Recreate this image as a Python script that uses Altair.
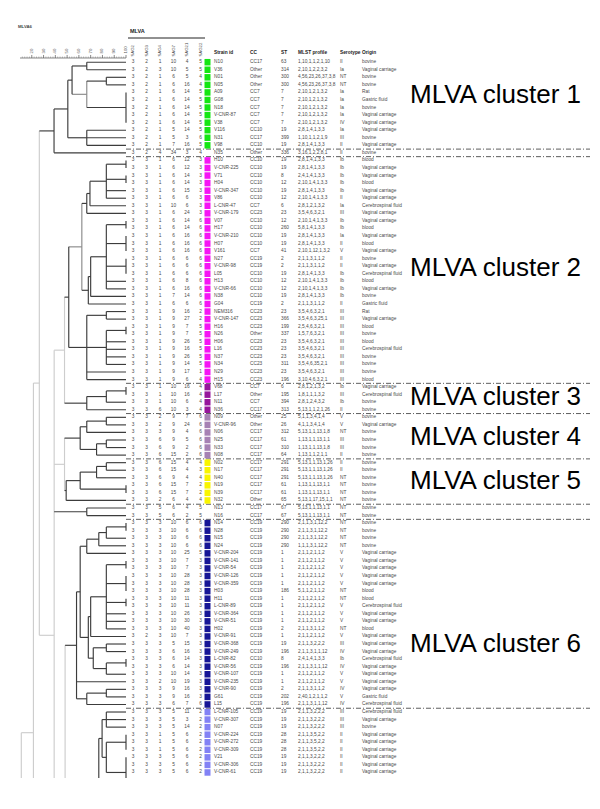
import altair as alt
import pandas as pd

# ---------------- table values (one entry per row, top to bottom) ----------------
strain = ["N10","V36","N01","N05","A09","G08","N18","V-CNR-87","V38","V116",
          "N31","V98","N35","H10","V-CNR-225","V71","H04","V-CNR-347","V86","L-CNR-47",
          "V-CNR-179","V07","H17","V-CNR-210","H07","V161","N27","V-CNR-98","L05","H13",
          "V-CNR-66","N38","G04","NEM316","V-CNR-147","H16","N26","H06","L16","N37",
          "N34","N29","H15","V68","L17","N11","N36","N09","V-CNR-96","N06",
          "N25","N33","N08","N02","N17","N40","N19","N39","N32","N13",
          "N16","N14","N28","N15","N24","V-CNR-204","V-CNR-141","V-CNR-54","V-CNR-126","V-CNR-359",
          "H03","H11","L-CNR-89","V-CNR-364","V-CNR-51","H02","V-CNR-91","V-CNR-368","V-CNR-249","L-CNR-82",
          "V-CNR-56","V-CNR-107","V-CNR-235","V-CNR-90","G61","L15","L-CNR-105","V-CNR-307","N07","V-CNR-224",
          "V-CNR-272","V-CNR-309","V21","V-CNR-306","V-CNR-61"]

sag2 = [3,3,3,3,3,3,3,3,3,3, 3,3,3,3,3,3,3,3,3,3, 3,3,3,3,3,3,3,3,3,3, 3,3,3,3,3,3,3,3,3,3,
        3,3,3,3,3,3,3,3,3,3, 3,3,3,3,3,3,3,3,3,3, 3,3,3,3,3,3,3,3,3,3, 3,3,3,3,3,3,3,3,3,3,
        3,3,3,3,3,3,3,3,3,3, 3,3,3,3,3]
sag3 = [2,2,2,2,2,2,2,2,2,2, 2,2,2,3,3,3,3,3,3,3, 3,3,3,3,3,3,3,3,3,3, 3,3,3,3,3,3,3,3,3,3,
        3,3,3,3,3,3,3,3,3,3, 3,3,3,3,3,3,3,3,3,3, 3,3,3,3,3,3,3,3,3,3, 3,3,3,3,3,3,2,3,3,3,
        3,3,3,3,3,3,3,3,3,3, 3,3,3,3,3]
sag4 = [1,3,1,1,1,1,1,1,1,1, 1,1,4,1,1,1,1,1,1,1, 1,1,1,1,1,1,1,1,1,1, 1,1,1,1,1,1,1,1,1,1,
        1,1,1,1,1,1,6,2,2,3, 6,6,6,6,6,6,6,6,2,5, 5,3,3,3,3,3,3,3,3,3, 3,3,3,3,3,3,3,3,3,3,
        3,3,2,3,3,3,3,3,3,1, 1,1,3,3,3]
sag7 = [10,10,6,6,6,6,6,6,6,5, 5,7,34,6,6,6,6,6,6,10, 6,6,6,6,6,6,6,6,6,6, 6,7,6,9,9,9,9,9,9,9,
        9,9,9,10,10,10,10,9,9,9, 9,9,15,15,15,9,15,15,6,6, 6,10,10,10,10,10,10,10,10,10,
        10,10,10,10,10,10,10,5,6,6, 6,10,10,9,9,6,5,5,5,5, 5,5,5,5,5]
sag21 = [4,5,5,16,14,14,14,14,14,14, 3,16,3,12,12,14,14,15,6,6, 24,14,14,16,16,16,6,6,6,8,
         16,14,6,16,27,7,7,26,16,26, 14,17,6,16,16,6,3,7,24,4, 5,2,2,4,4,4,7,7,4,4,
         2,6,6,6,6,25,7,7,28,28, 28,11,11,26,30,40,7,15,16,14, 14,14,19,16,16,7,11,3,14,6,
         6,6,6,6,6]
sag22 = [5,5,4,4,5,5,5,5,5,5, 6,5,4,3,3,3,3,3,3,3, 3,6,6,6,6,6,6,6,6,6, 6,6,6,2,2,5,5,5,5,5,
         5,1,4,4,4,4,4,6,6,6, 6,6,6,4,3,4,2,2,4,5, 5,6,6,6,6,5,3,3,3,3, 3,3,3,3,3,3,3,3,3,3,
         3,3,3,3,3,6,2,2,2,2, 2,2,2,2,2]

cc = ["CC17","Other","Other","Other","CC7","CC7","CC7","CC7","CC7","CC10",
      "CC17","CC10","Other","CC10","CC10","CC10","CC10","CC10","CC10","CC7",
      "CC23","CC10","CC10","CC10","CC10","CC7","CC19","CC19","CC10","CC10",
      "CC10","CC10","CC19","CC23","CC23","CC23","Other","CC23","CC23","CC23",
      "CC23","CC23","CC23","CC7","Other","CC7","CC17","Other","Other","CC17",
      "CC17","CC17","CC17","CC17","CC17","CC17","CC17","CC17","Other","CC17",
      "CC17","CC19","CC19","CC19","CC19","CC19","CC19","CC19","CC19","CC19",
      "CC19","CC19","CC19","CC19","CC19","CC19","CC19","CC19","CC19","CC10",
      "CC19","CC19","CC19","CC19","CC19","CC19","CC19","CC19","CC19","CC19",
      "CC19","CC19","CC19","CC19","CC19"]
st = ["63","314","300","300","7","7","7","7","7","19",
      "399","19","336","19","19","8","12","19","12","6",
      "23","12","260","19","19","41","2","2","19","12",
      "12","19","2","23","366","199","337","23","23","23",
      "311","23","196","6","195","394","313","25","26","312",
      "61","310","64","291","291","291","61","61","65","67",
      "67","290","290","290","290","1","1","1","1","1",
      "186","1","1","1","1","2","1","19","196","8",
      "196","1","1","2","202","196","19","19","19","28",
      "28","28","19","19","19"]
mlst = ["1,10,1,1,2,1,10","2,10,1,2,2,3,2","4,56,23,26,37,3,8","4,56,23,26,37,3,8","2,10,1,2,1,3,2",
        "2,10,1,2,1,3,2","2,10,1,2,1,3,2","2,10,1,2,1,3,2","2,10,1,2,1,3,2","2,8,1,4,1,3,3",
        "1,10,1,1,2,1,9","2,8,1,4,1,3,3","3,16,1,2,2,8,1","2,8,1,4,1,3,3","2,8,1,4,1,3,3",
        "2,4,1,4,1,3,3","2,10,1,4,1,3,3","2,8,1,4,1,3,3","2,10,1,4,1,3,3","2,8,1,2,1,3,2",
        "3,5,4,6,3,2,1","2,10,1,4,1,3,3","5,8,1,4,1,3,3","2,8,1,4,1,3,3","2,8,1,4,1,3,3",
        "2,10,1,12,1,3,2","2,1,1,3,1,1,2","2,1,1,3,1,1,2","2,8,1,4,1,3,3","2,10,1,4,1,3,3",
        "2,10,1,4,1,3,3","2,8,1,4,1,3,3","2,1,1,3,1,1,2","3,5,4,6,3,2,1","3,5,4,6,3,25,1",
        "2,5,4,6,3,2,1","1,5,7,6,3,2,1","3,5,4,6,3,2,1","3,5,4,6,3,2,1","3,5,4,6,3,2,1",
        "3,5,4,6,35,2,1","3,5,4,6,3,2,1","3,10,4,6,3,2,1","2,8,1,2,1,3,2","1,8,1,1,1,3,2",
        "2,8,1,2,4,3,2","5,13,1,1,2,1,26","5,1,1,3,4,1,4","4,1,1,3,4,1,4","5,13,1,1,13,1,8",
        "1,13,1,1,13,1,1","1,13,1,1,13,1,8","1,13,1,1,2,1,1","5,13,1,1,13,1,26","5,13,1,1,13,1,26",
        "5,13,1,1,13,1,26","1,13,1,1,13,1,1","1,13,1,1,13,1,1","5,13,1,17,15,1,1","5,13,1,1,13,1,1",
        "5,13,1,1,13,1,1","2,1,1,3,1,12,2","2,1,1,3,1,12,2","2,1,1,3,1,12,2","1,1,1,3,1,12,2",
        "2,1,1,2,1,1,2","2,1,1,2,1,1,2","2,1,1,2,1,1,2","2,1,1,2,1,1,2","2,1,1,2,1,1,2",
        "5,1,1,2,1,1,2","2,1,1,2,1,1,2","2,1,1,2,1,1,2","2,1,1,2,1,1,2","2,1,1,2,1,1,2",
        "2,1,1,3,1,1,2","2,1,1,2,1,1,2","2,1,1,3,2,2,2","2,1,1,3,1,1,12","2,4,1,4,1,3,3",
        "2,1,1,3,1,1,12","2,1,1,2,1,1,2","2,1,1,2,1,1,2","2,1,1,3,1,1,2","2,40,1,2,1,1,2",
        "2,1,1,3,1,1,12","2,1,1,3,2,2,2","2,1,1,3,2,2,2","2,1,1,3,2,2,2","2,1,1,3,5,2,2",
        "2,1,1,3,5,2,2","2,1,1,3,5,2,2","2,1,1,3,2,2,2","2,1,1,3,2,2,2","2,1,1,3,2,2,2"]
serotype = ["II","Ia","NT","NT","Ia","Ia","Ia","Ia","IV","Ia",
            "III","II","II","Ib","Ib","Ib","Ib","Ib","II","Ia",
            "III","Ib","Ib","Ia","II","V","II","II","Ib","Ib",
            "Ib","Ib","II","III","III","III","III","III","III","III",
            "III","III","III","Ib","III","Ib","II","V","V","NT",
            "III","III","II","II","II","NT","NT","NT","NT","NT",
            "NT","NT","NT","NT","NT","V","V","V","V","V",
            "NT","NT","V","V","V","NT","V","III","IV","Ib",
            "IV","V","V","IV","V","IV","III","III","III","II",
            "II","II","II","II","II"]
VC, CSF, GF = "Vaginal carriage", "Cerebrospinal fluid", "Gastric fluid"
origin = ["bovine",VC,"bovine","bovine","Rat",GF,"bovine",VC,VC,VC,
          "bovine",VC,"bovine","blood",VC,VC,"blood",VC,VC,CSF,
          VC,VC,"blood",VC,"blood",VC,"bovine",VC,CSF,"blood",
          VC,"bovine",GF,"Rat",VC,"blood","bovine","blood",CSF,"bovine",
          "bovine","bovine","blood",VC,CSF,"bovine","bovine","bovine",VC,"bovine",
          "bovine","bovine","bovine","bovine","bovine","bovine","bovine","bovine","bovine","bovine",
          "bovine","bovine","bovine","bovine","bovine",VC,VC,VC,VC,VC,
          "blood","blood",CSF,VC,VC,"blood",VC,VC,VC,CSF,
          VC,VC,VC,VC,GF,CSF,CSF,VC,"bovine",VC,
          VC,VC,VC,VC,VC]
# MLVA cluster membership (0 = unclustered)
cluster = [1,1,1,1,1,1,1,1,1,1, 1,1,0,2,2,2,2,2,2,2, 2,2,2,2,2,2,2,2,2,2, 2,2,2,2,2,2,2,2,2,2,
           2,2,2,3,3,3,3,4,4,4, 4,4,4,5,5,5,5,5,5,0, 0,6,6,6,6,6,6,6,6,6, 6,6,6,6,6,6,6,6,6,6,
           6,6,6,6,6,6,7,7,7,7, 7,7,7,7,7]

separators_after = [11, 12, 42, 46, 52, 58, 60, 85]
cluster_labels = ["MLVA cluster 1","MLVA cluster 2","MLVA cluster 3","MLVA cluster 4","MLVA cluster 5","MLVA cluster 6"]
cluster_label_rows = [4.3, 27.2, 44.3, 49.6, 55.4, 77.0]
scale_major = [20, 30, 40, 50, 60, 70, 80, 90, 100]
scale_minor = [12,14,16,18,22,24,26,28,32,34,36,38,42,44,46,48,52,54,56,58,62,64,66,68,72,74,76,78,82,84,86,88,92,94,96,98]

# ---------------- dendrogram (similarity %, line shade, children) ----------------
def N(sim, shade, *kids):
    return {"s": sim, "c": shade, "k": list(kids)}

# cluster 1
A = N(66.7, "k", 0, 1)
B = N(83.3, "k", 2, 3)
I48 = N(100, "k", 4, 5, 6, 7, 8)
C = N(66.7, "m", B, I48)
D = N(54.2, "k", A, C)
T = N(66.7, "k", 9, 10, 11)
E = N(50.6, "k", D, T)
F = N(38.9, "k", E, 12)
# cluster 2
g13 = N(83.3, "k", N(100, "k", 13, 14), N(100, "k", 15, 16), 17, 18)
h20 = N(66.7, "k", N(69.4, "k", g13, 19), 20)
g21 = N(83.3, "k", N(100, "k", 21, 22), N(100, "k", 23, 24, 25), N(100, "k", 26, 27, 28), 29, 30)
h32 = N(68.0, "k", N(70.0, "k", g21, 31), 32)
u2 = N(62.5, "m", h20, h32)
l2 = N(66.7, "k", N(83.3, "k", 33, 34), N(83.3, "k", N(100, "k", 35, 36), 37, 38, 39, 40), 41, 42)
c2 = N(51.4, "k", u2, l2)
# cluster 3
c3 = N(66.7, "k", N(83.3, "k", N(100, "k", 43, 44), 45), 46)
c23 = N(47.8, "l", c2, c3)
# clusters 4 and 5
c4 = N(61.1, "k", N(66.7, "k", N(83.3, "k", 47, 48), 49), N(75.0, "k", N(83.3, "k", 50, 51), 52))
c5 = N(49.2, "k", N(61.1, "k", N(75.0, "k", N(83.3, "k", 53, 54), 55), N(100, "k", 56, 57)), 58)
c45 = N(47.8, "l", c4, c5)
p59 = N(66.7, "k", 59, 60)
# cluster 6
g65 = N(66.7, "k", N(76.9, "k", N(83.3, "k", N(100, "k", 61, 62), 63), 64), 65)
gb = N(83.3, "k", N(100, "k", 66, 67), N(100, "k", 68, 69, 70), N(100, "k", 71, 72), 73, 74, 75)
hb = N(70.0, "k", gb, 76)
gc = N(72.2, "k", N(83.3, "k", 77, 78), N(83.3, "k", N(100, "k", 79, 80), 81))
n243 = N(61.1, "k", g65, N(68.0, "k", hb, gc))
c6 = N(58.0, "k", n243, 82, N(66.7, "k", N(83.3, "k", 83, 84), 85))
# light-blue group (continues below the visible part: rows >= 95)
g89 = N(83.3, "k", N(100, "k", 89, 90, 91), N(100, "k", 92, 93, 94, 95, 96))
n310 = N(79.7, "k", N(83.3, "k", 86, 87, 88), g89)
n300 = N(76.9, "k", n310, 104)
n197 = N(48.3, "l", c6, n300, 150)
P = N(39.0, "l", c23, c45, p59, n197)
G = N(26.4, "l", F, P)
Q = N(21.4, "l", G, 135)
R = N(11.1, "l", Q, 160)

segs = []
def walk(node):
    if isinstance(node, int):
        return node, 100.0, None
    pos = [walk(k) for k in node["k"]]
    ys = [p[0] for p in pos]
    segs.append(dict(xa=node["s"], xb=node["s"], ya=min(ys), yb=max(ys), shade=node["c"]))
    for (y, xs, sh) in pos:
        segs.append(dict(xa=node["s"], xb=xs, ya=y, yb=y, shade=sh if sh else node["c"]))
    return (min(ys) + max(ys)) / 2.0, node["s"], node["c"]

walk(R)
shade_color = {"k": "#3c3c3c", "m": "#8a8a8a", "l": "#cdcdcd"}
order = {"l": 0, "m": 1, "k": 2}
seg_df = pd.DataFrame(segs)
seg_df["col"] = seg_df["shade"].map(shade_color)
seg_df["o"] = seg_df["shade"].map(order)
seg_df = seg_df.sort_values("o", kind="stable").reset_index(drop=True)

# ---------------- layout (reference pixel columns) ----------------
W, H = 584, 770
ROW0, ROWH = 62.2, 7.556
y_lo = (8 - ROW0) / ROWH
y_hi = (8 + H - ROW0) / ROWH
YS = alt.Scale(domain=[y_lo, y_hi], reverse=True, nice=False, zero=False)
XS = alt.Scale(domain=[8, 8 + W], nice=False, zero=False)
SIM_X0, SIM_X1 = 20, 126   # pixel of 10 % and 100 %
SS = alt.Scale(domain=[10, 100], range=[SIM_X0 - 8, SIM_X1 - 8], nice=False, zero=False)

FONT = "Liberation Sans"
TS = 4.8
TC = "#4a4a4a"
locus_names = ["SAG2", "SAG3", "SAG4", "SAG7", "SAG21", "SAG22"]
locus_x = [133, 146.5, 160, 173.5, 187, 200.5]
sq_x0, sq_x1 = 204.5, 210.5
col_x = {"strain": 214, "cc": 250, "st": 281, "mlst": 298, "sero": 340, "origin": 362}
headers = ["Strain id", "CC", "ST", "MLST profile", "Serotype", "Origin"]
header_x = [214, 250, 281, 298, 340, 362]
palette = {1: "#14e614", 2: "#f514f5", 3: "#96179c", 4: "#a682b4", 5: "#f8f500",
           6: "#161696", 7: "#8282f5"}

n = len(strain)
rows = list(range(n))
loci = [sag2, sag3, sag4, sag7, sag21, sag22]

cells = pd.DataFrame([dict(row=r, x=locus_x[j], t=str(loci[j][r])) for r in rows for j in range(6)])
left = pd.DataFrame(
    [dict(row=r, x=col_x["strain"], t=strain[r]) for r in rows]
    + [dict(row=r, x=col_x["cc"], t=cc[r]) for r in rows]
    + [dict(row=r, x=col_x["st"], t=st[r]) for r in rows]
    + [dict(row=r, x=col_x["mlst"], t=mlst[r]) for r in rows]
    + [dict(row=r, x=col_x["sero"], t=serotype[r]) for r in rows]
    + [dict(row=r, x=col_x["origin"], t=origin[r]) for r in rows])
sq = pd.DataFrame([dict(ya=r - 0.43, yb=r + 0.43, xa=sq_x0, xb=sq_x1, col=palette[cluster[r]])
                   for r in rows if cluster[r] > 0])
sep = pd.DataFrame([dict(y=s + 0.5, xa=126, xb=590) for s in separators_after])
lab = pd.DataFrame(dict(t=cluster_labels, row=cluster_label_rows, x=[410] * len(cluster_labels)))
hdr = pd.DataFrame(dict(t=headers, x=header_x, row=[-1.2] * len(headers)))
loc_hdr = pd.DataFrame(dict(t=locus_names, x=locus_x, row=[-0.75] * 6))

AX_ROW = (58 - ROW0) / ROWH
maj = pd.DataFrame(dict(s=scale_major, ya=[AX_ROW] * len(scale_major), yb=[AX_ROW - 0.4] * len(scale_major),
                        t=[str(v) for v in scale_major], yt=[AX_ROW - 0.6] * len(scale_major)))
mnr = pd.DataFrame(dict(s=scale_minor, ya=[AX_ROW] * len(scale_minor), yb=[AX_ROW - 0.2] * len(scale_minor)))
axline = pd.DataFrame(dict(xa=[10], xb=[100], y=[AX_ROW]))

def tx(df, **kw):
    return alt.Chart(df).mark_text(font=FONT, **kw)

dendro = alt.Chart(seg_df).mark_rule(strokeWidth=1.15, clip=True).encode(
    x=alt.X("xa:Q", scale=SS, axis=None), x2="xb:Q",
    y=alt.Y("ya:Q", scale=YS, axis=None), y2="yb:Q",
    color=alt.Color("col:N", scale=None))

ax_l = alt.Chart(axline).mark_rule(strokeWidth=0.7, color="#555").encode(
    x=alt.X("xa:Q", scale=SS, axis=None), x2="xb:Q", y=alt.Y("y:Q", scale=YS, axis=None))
maj_l = alt.Chart(maj).mark_rule(strokeWidth=0.7, color="#555").encode(
    x=alt.X("s:Q", scale=SS, axis=None), y=alt.Y("ya:Q", scale=YS, axis=None), y2="yb:Q")
mnr_l = alt.Chart(mnr).mark_rule(strokeWidth=0.5, color="#777").encode(
    x=alt.X("s:Q", scale=SS, axis=None), y=alt.Y("ya:Q", scale=YS, axis=None), y2="yb:Q")
maj_t = tx(maj, fontSize=4.3, angle=270, align="left", baseline="middle", color="#555").encode(
    x=alt.X("s:Q", scale=SS, axis=None), y=alt.Y("yt:Q", scale=YS, axis=None), text="t:N")

cells_l = tx(cells, fontSize=TS, align="center", baseline="middle", color=TC).encode(
    x=alt.X("x:Q", scale=XS, axis=None), y=alt.Y("row:Q", scale=YS, axis=None), text="t:N")
left_l = tx(left, fontSize=TS, align="left", baseline="middle", color=TC).encode(
    x=alt.X("x:Q", scale=XS, axis=None), y=alt.Y("row:Q", scale=YS, axis=None), text="t:N")
sq_l = alt.Chart(sq).mark_rect().encode(
    x=alt.X("xa:Q", scale=XS, axis=None), x2="xb:Q",
    y=alt.Y("ya:Q", scale=YS, axis=None), y2="yb:Q", color=alt.Color("col:N", scale=None))
sep_l = alt.Chart(sep).mark_rule(strokeWidth=0.8, color="#333", strokeDash=[5, 2, 1, 2]).encode(
    x=alt.X("xa:Q", scale=XS, axis=None), x2="xb:Q", y=alt.Y("y:Q", scale=YS, axis=None))
lab_l = tx(lab, fontSize=26, align="left", baseline="middle", color="#000").encode(
    x=alt.X("x:Q", scale=XS, axis=None), y=alt.Y("row:Q", scale=YS, axis=None), text="t:N")
hdr_l = tx(hdr, fontSize=TS, fontWeight="bold", align="left", baseline="middle", color="#222").encode(
    x=alt.X("x:Q", scale=XS, axis=None), y=alt.Y("row:Q", scale=YS, axis=None), text="t:N")
loch_l = tx(loc_hdr, fontSize=4.3, angle=270, align="left", baseline="middle", color="#444").encode(
    x=alt.X("x:Q", scale=XS, axis=None), y=alt.Y("row:Q", scale=YS, axis=None), text="t:N")

top = pd.DataFrame(dict(t=["MLVA", "MLVA6"], x=[130, 18], row=[(31 - ROW0) / ROWH, (27 - ROW0) / ROWH]))
top_l1 = tx(top.iloc[[0]], fontSize=5.5, fontWeight="bold", align="left", baseline="middle", color="#222").encode(
    x=alt.X("x:Q", scale=XS, axis=None), y=alt.Y("row:Q", scale=YS, axis=None), text="t:N")
top_l2 = tx(top.iloc[[1]], fontSize=4.3, fontWeight="bold", align="left", baseline="middle", color="#444").encode(
    x=alt.X("x:Q", scale=XS, axis=None), y=alt.Y("row:Q", scale=YS, axis=None), text="t:N")
mline = pd.DataFrame(dict(xa=[128], xb=[205], y=[(38 - ROW0) / ROWH]))
mline_l = alt.Chart(mline).mark_rule(strokeWidth=1, color="#222").encode(
    x=alt.X("xa:Q", scale=XS, axis=None), x2="xb:Q", y=alt.Y("y:Q", scale=YS, axis=None))

chart = alt.layer(
    dendro, ax_l, mnr_l, maj_l, maj_t,
    sep_l, sq_l, cells_l, left_l, hdr_l, loch_l, lab_l, top_l1, top_l2, mline_l
).resolve_scale(x="independent").properties(
    width=W, height=H, padding=0, autosize=alt.AutoSizeParams(type="none")
).configure_view(stroke=None)

chart.save("out.html", embed_options={"renderer": "svg", "actions": False})
